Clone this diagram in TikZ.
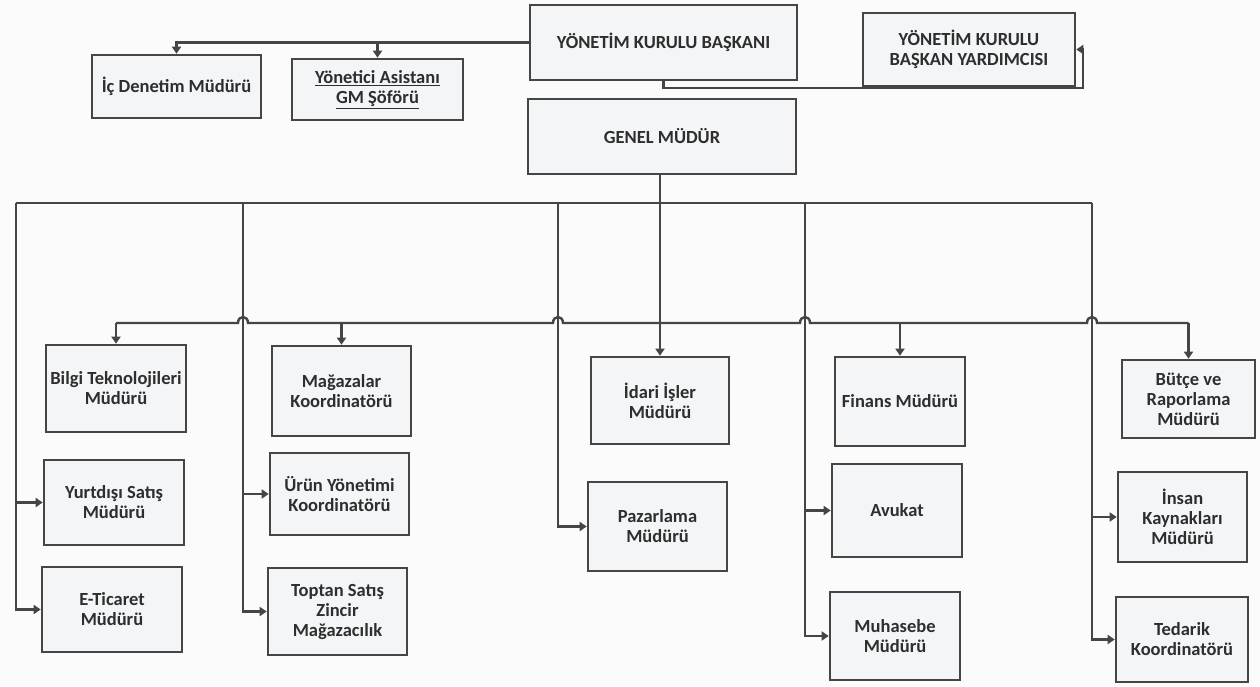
\documentclass[tikz,border=0pt]{standalone}
\usepackage{fontspec}
\setmainfont{Carlito}
\usetikzlibrary{arrows.meta}
\definecolor{ln}{HTML}{454545}
\definecolor{bx}{HTML}{F3F5F7}
\definecolor{tx}{HTML}{2E2E2E}
\definecolor{bg}{HTML}{FBFBFB}
\tikzset{
  box/.style={draw=ln, line width=2.6pt, fill=bx, align=center, inner sep=2pt, text=tx,
    font=\fontsize{18.5}{20}\selectfont\bfseries},
  sz/.style 2 args={minimum width=#1pt, minimum height=#2pt},
  conn/.style={draw=ln, line width=2.4pt},
  arr/.style={conn, -{Triangle[width=9pt,length=7pt]}},
}
\begin{document}
\begin{tikzpicture}[x=1pt,y=-1pt]
\fill[bg] (0,0) rectangle (1260,686);
\useasboundingbox (0,0) rectangle (1260,686);

% top level
\node[box, sz={267}{75}] (ykb) at (663.5,42.5) {YÖNETİM KURULU BAŞKANI};
\node[box, sz={212}{73}] (yard) at (969,49.5) {YÖNETİM KURULU\\BAŞKAN YARDIMCISI};
\node[box, sz={169}{63}] (ic) at (176.5,86.5) {İç Denetim Müdürü};
\node[box, sz={171}{61}] (yon) at (377.5,89.5) {\underline{Yönetici Asistanı}\\\underline{GM Şöförü}};
\node[box, sz={268}{75}] (gm) at (662,136.5) {GENEL MÜDÜR};

% column 1
\node[box, sz={140}{87}] (bilgi) at (116,388.5) {Bilgi Teknolojileri\\Müdürü};
\node[box, sz={140}{85}] (yurt) at (114,502.5) {Yurtdışı Satış\\Müdürü};
\node[box, sz={140}{85}] (etic) at (112,609.5) {E-Ticaret\\Müdürü};
% column 2
\node[box, sz={139}{90}] (mag) at (341.5,391) {Mağazalar\\Koordinatörü};
\node[box, sz={139}{82}] (urun) at (339.5,494) {Ürün Yönetimi\\Koordinatörü};
\node[box, sz={139}{87}] (toptan) at (337.5,611.5) {Toptan Satış\\Zincir\\Mağazacılık};
% column 3
\node[box, sz={138}{87}] (idari) at (660,400.5) {İdari İşler\\Müdürü};
\node[box, sz={139}{89}] (paz) at (657.5,526.5) {Pazarlama\\Müdürü};
% column 4
\node[box, sz={130}{89}] (finans) at (900,401.5) {Finans Müdürü};
\node[box, sz={130}{93}] (avukat) at (897,510.5) {Avukat};
\node[box, sz={130}{88}] (muh) at (895,636) {Muhasebe\\Müdürü};
% column 5
\node[box, sz={133}{78}] (butce) at (1188.5,399) {Bütçe ve\\Raporlama\\Müdürü};
\node[box, sz={129}{90}] (ik) at (1182.5,517) {İnsan\\Kaynakları\\Müdürü};
\node[box, sz={132}{85}] (ted) at (1182,639.5) {Tedarik\\Koordinatörü};

% top connectors
\draw[arr] (ykb.west) -| (ic.north);
\draw[arr] (ykb.west -| yon.north) -- (yon.north);
\coordinate (yr) at (1083,88);
\draw[arr] (ykb.south) |- (yr) |- (yard.east);

% main stem
\draw[arr] (gm.south -| idari.north) -- (idari.north);

% top bus
\coordinate (v1) at (16,203);
\coordinate (v2) at (243,203);
\coordinate (v3) at (558,203);
\coordinate (v4) at (805,203);
\coordinate (v5) at (1092,203);
\draw[conn] (v1) -- (v5);
\draw[arr] (v1) |- (yurt.west);
\draw[arr] (v1) |- (etic.west);
\draw[arr] (v2) |- (urun.west);
\draw[arr] (v2) |- (toptan.west);
\draw[arr] (v3) |- (paz.west);
\draw[arr] (v4) |- (avukat.west);
\draw[arr] (v4) |- (muh.west);
\draw[arr] (v5) |- (ik.west);
\draw[arr] (v5) |- (ted.west);

% second bus with hops
\coordinate (bl) at (116,323);
\coordinate (br) at (1188.5,323);
\draw[conn] (bl) -- (238,323) .. controls (238,315) and (248,315) .. (248,323)
  -- (553,323) .. controls (553,315) and (563,315) .. (563,323)
  -- (800,323) .. controls (800,315) and (810,315) .. (810,323)
  -- (1087,323) .. controls (1087,315) and (1097,315) .. (1097,323) -- (br);
\draw[arr] (bl) -- (bilgi.north);
\draw[arr] (bl -| mag.north) -- (mag.north);
\draw[arr] (bl -| finans.north) -- (finans.north);
\draw[arr] (br) -- (butce.north);
\end{tikzpicture}
\end{document}
